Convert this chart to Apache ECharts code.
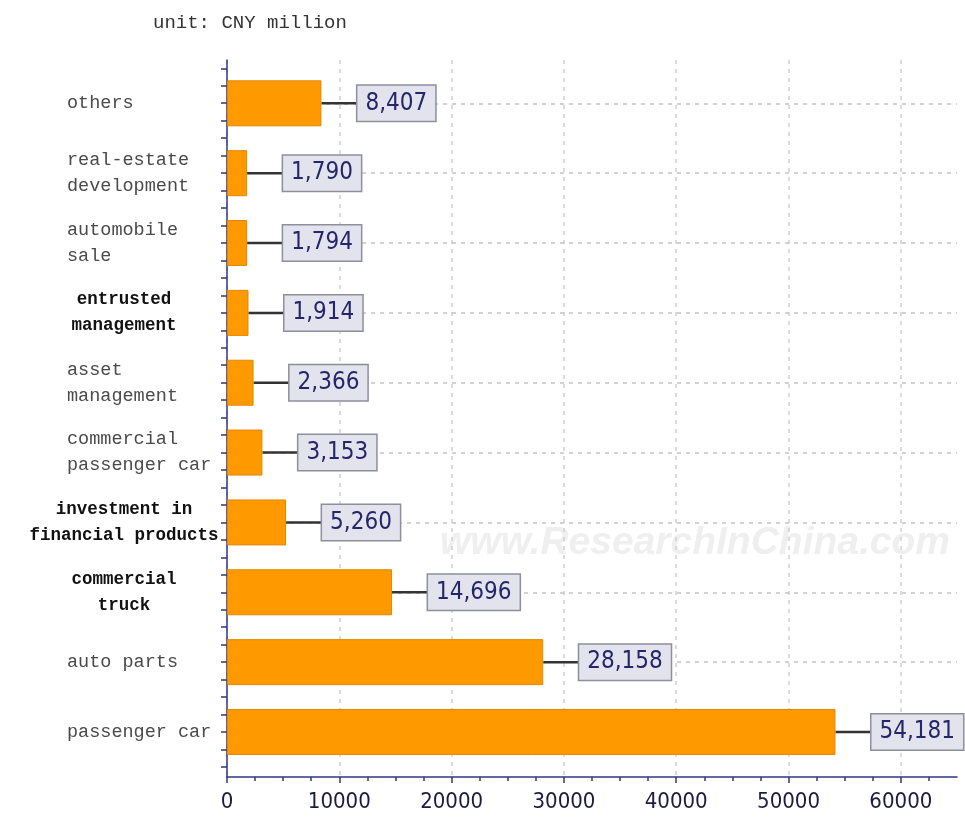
<!DOCTYPE html>
<html>
<head>
<meta charset="utf-8">
<script src="https://cdn.jsdelivr.net/npm/echarts@6/dist/echarts.min.js"></script>
<style>html,body{margin:0;padding:0;background:#fff}#c{width:965px;height:818px}</style>
</head>
<body>
<div id="c"></div>
<script>
const categories = [
  'others',
  'real-estate\ndevelopment',
  'automobile\nsale',
  'entrusted\nmanagement',
  'asset\nmanagement',
  'commercial\npassenger car',
  'investment in\nfinancial products',
  'commercial\ntruck',
  'auto parts',
  'passenger car'
];
const values = [8407, 1790, 1794, 1914, 2366, 3153, 5260, 14696, 28158, 54181];
const xTickLabels = [0, 10000, 20000, 30000, 40000, 50000, 60000];
const unitText = 'unit: CNY million';
const watermark = 'www.ResearchInChina.com';

const boldCats = new Set(['entrusted\nmanagement', 'investment in\nfinancial products', 'commercial\ntruck']);
const yTicks = [];
for (let k = -2; k <= 38; k++) yTicks.push(k * 0.25);

const chart = echarts.init(document.getElementById('c'), null, {renderer: 'canvas'});
const axisColor = '#2e3a80';
const numFont = "'Liberation Sans Narrow', 'DejaVu Sans Condensed', sans-serif";

const option = {
  animation: false,
  backgroundColor: '#ffffff',
  title: {
    text: unitText, left: 148, top: 8,
    textStyle: {fontFamily: 'Liberation Mono', fontSize: 19, fontWeight: 'normal', color: '#333'}
  },
  graphic: [{
    type: 'text', left: 440, top: 524, z: 0, silent: true,
    style: {text: watermark, font: 'italic bold 39px "Liberation Sans", sans-serif', fill: '#efefef'}
  }],
  grid: [
    {left: 227, right: 8, top: 68.4, bottom: 51.1},
    {left: 227, right: 8, top: 60, bottom: 41}
  ],
  xAxis: [
    {gridIndex: 0, type: 'value', min: 0, max: 65000, show: false},
    {
      gridIndex: 1, type: 'value', min: 0, max: 65000, interval: 10000,
      axisLine: {show: true, onZero: false, lineStyle: {color: axisColor, width: 1.5}},
      axisTick: {show: true, length: 6, customValues: xTickLabels, lineStyle: {color: axisColor, width: 1.5}},
      minorTick: {show: true, splitNumber: 4, length: 4, lineStyle: {color: axisColor, width: 1.5}},
      axisLabel: {customValues: xTickLabels, formatter: v => String(v), margin: 14, fontFamily: numFont, fontSize: 22, color: '#1c1c40'},
      splitLine: {show: true, lineStyle: {type: [4, 5], color: '#cfcfcf', width: 1.5}}
    }
  ],
  yAxis: [
    {
      gridIndex: 0, type: 'category', data: categories, inverse: true,
      axisLine: {show: false}, axisTick: {show: false},
      axisLabel: {
        align: 'right', margin: 12,
        formatter: function (v) {
          const st = boldCats.has(v) ? 'b' : 'g';
          return v.split('\n').map(l => '{' + st + '|' + l + '}').join('\n');
        },
        rich: {
          g: {fontFamily: 'Liberation Mono', fontSize: 18.5, color: '#4a4a4a', width: 148, align: 'left', lineHeight: 26},
          b: {fontFamily: 'Liberation Mono', fontWeight: 'bold', fontSize: 17.5, color: '#111', width: 182, align: 'center', lineHeight: 26}
        }
      }
    },
    {
      gridIndex: 1, type: 'value', min: -0.644, max: 9.619,
      axisLine: {show: true, onZero: false, lineStyle: {color: axisColor, width: 1.5}},
      axisTick: {show: true, length: 6, customValues: yTicks, lineStyle: {color: axisColor, width: 1.5}},
      axisLabel: {show: false},
      splitLine: {show: false}
    }
  ],
  series: [
    {
      type: 'bar', xAxisIndex: 0, yAxisIndex: 0, data: values, barWidth: 46, z: 3,
      itemStyle: {color: '#FF9900', borderColor: '#E38800', borderWidth: 1},
      label: {
        show: true, position: 'right', distance: 36,
        formatter: p => p.value.toLocaleString('en-US'),
        fontFamily: numFont, fontSize: 24, lineHeight: 24, color: '#25256b',
        backgroundColor: '#e3e3ed', borderColor: '#8e8e9c', borderWidth: 1.5,
        padding: [6, 8, 5, 8]
      },
      markLine: {
        z: 1, silent: true, symbol: 'none', animation: false,
        label: {show: false},
        lineStyle: {type: [4, 5], color: '#c4c4c4', width: 1.5},
        data: categories.map(c => ({yAxis: c}))
      }
    },
    {
      type: 'custom', xAxisIndex: 0, yAxisIndex: 0, z: 2, silent: true,
      data: values.map((v, i) => [v, i]),
      renderItem: function (params, api) {
        const p = api.coord([api.value(0), api.value(1)]);
        return {type: 'line', shape: {x1: p[0], y1: p[1], x2: p[0] + 36, y2: p[1]}, style: {stroke: '#333', lineWidth: 2.5}};
      }
    },
    {type: 'line', xAxisIndex: 1, yAxisIndex: 1, data: [], silent: true}
  ]
};
chart.setOption(option);
</script>
</body>
</html>
